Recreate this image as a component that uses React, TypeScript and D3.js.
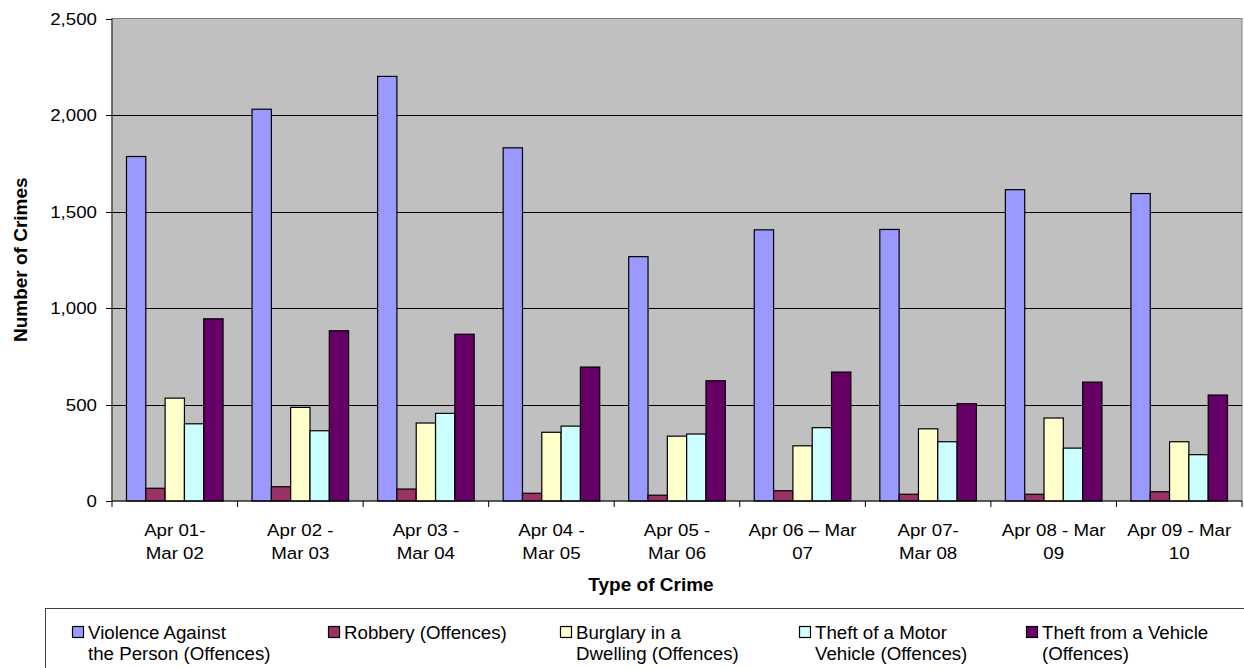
import React from "react";
import * as d3 from "d3";

// Reporting periods (two-line axis labels)
const periodLine1 = [
  "Apr 01-",
  "Apr 02 -",
  "Apr 03 -",
  "Apr 04 -",
  "Apr 05 -",
  "Apr 06 \u2013 Mar",
  "Apr 07-",
  "Apr 08 - Mar",
  "Apr 09 - Mar",
];
const periodLine2 = ["Mar 02", "Mar 03", "Mar 04", "Mar 05", "Mar 06", "07", "Mar 08", "09", "10"];

// Offence series
const seriesNames = [
  "Violence Against the Person (Offences)",
  "Robbery (Offences)",
  "Burglary in a Dwelling (Offences)",
  "Theft of a Motor Vehicle (Offences)",
  "Theft from a Vehicle (Offences)",
];
const violence = [1785, 2030, 2200, 1830, 1266, 1405, 1407, 1613, 1593];
const robbery = [66, 74, 62, 40, 30, 53, 35, 35, 48];
const burglary = [533, 485, 404, 356, 336, 286, 374, 430, 307];
const theftOfVehicle = [400, 364, 454, 388, 347, 380, 307, 274, 240];
const theftFromVehicle = [944, 882, 864, 694, 623, 668, 504, 616, 549];

const yTicks = [0, 500, 1000, 1500, 2000, 2500];

const seriesColors = ["#9999FF", "#993366", "#FFFFCC", "#CCFFFF", "#660066"];

// legend labels split over two lines
const legendLines = [
  ["Violence Against", "the Person (Offences)"],
  ["Robbery (Offences)", ""],
  ["Burglary in a", "Dwelling (Offences)"],
  ["Theft of a Motor", "Vehicle (Offences)"],
  ["Theft from a Vehicle", "(Offences)"],
];
const legendX = [72, 328, 560, 799, 1026];

const W = 1244;
const H = 668;
const plot = { left: 112, right: 1242, top: 18.5, bottom: 501 };
const FONT = "Arial, 'Liberation Sans', sans-serif";

export default function App() {
  const values = [violence, robbery, burglary, theftOfVehicle, theftFromVehicle];
  const periods = periodLine1.map((_, i) => i);

  const x = d3
    .scaleBand<number>()
    .domain(periods)
    .range([plot.left, plot.right])
    .paddingInner(0)
    .paddingOuter(0);
  const xs = d3
    .scaleBand<number>()
    .domain(d3.range(seriesNames.length))
    .range([0, x.bandwidth()])
    .paddingInner(0)
    .paddingOuter(0.75);
  const y = d3.scaleLinear().domain([0, 2500]).range([plot.bottom, plot.top]);
  const fmt = d3.format(",");

  const tickX = d3.range(periods.length + 1).map((i) => plot.left + i * x.step());

  return (
    <svg
      width={W}
      height={H}
      style={{ position: "absolute", left: 0, top: 0, display: "block" }}
      fontFamily={FONT}
    >
      <rect x={0} y={0} width={W} height={H} fill="#ffffff" />

      {/* plot area */}
      <rect
        x={plot.left}
        y={plot.top}
        width={plot.right - plot.left}
        height={plot.bottom - plot.top}
        fill="#C0C0C0"
        stroke="#808080"
        strokeWidth={1}
      />

      {/* gridlines */}
      {yTicks
        .filter((t) => t > 0 && t < 2500)
        .map((t) => (
          <line
            key={`g${t}`}
            x1={plot.left}
            x2={plot.right}
            y1={Math.round(y(t)) + 0.5}
            y2={Math.round(y(t)) + 0.5}
            stroke="#000000"
            strokeWidth={1}
          />
        ))}

      {/* bars */}
      {values.map((vals, s) =>
        vals.map((v, i) => (
          <rect
            key={`b${s}-${i}`}
            x={(x(i) as number) + (xs(s) as number)}
            y={y(v)}
            width={xs.bandwidth()}
            height={plot.bottom - y(v)}
            fill={seriesColors[s]}
            stroke="#000000"
            strokeWidth={1.2}
          />
        ))
      )}

      {/* y axis */}
      <line x1={plot.left} x2={plot.left} y1={plot.top} y2={plot.bottom} stroke="#404040" strokeWidth={1.2} />
      {yTicks.map((t) => (
        <g key={`yt${t}`}>
          <line
            x1={plot.left - 6}
            x2={plot.left}
            y1={Math.round(y(t)) + 0.5}
            y2={Math.round(y(t)) + 0.5}
            stroke="#000"
          />
          <text
            transform={`translate(97,${y(t) + 6}) scale(1.1,1)`}
            textAnchor="end"
            fontSize={17}
            fill="#000"
          >
            {fmt(t)}
          </text>
        </g>
      ))}

      {/* x axis */}
      <line x1={plot.left} x2={plot.right} y1={plot.bottom} y2={plot.bottom} stroke="#000" strokeWidth={1.2} />
      {tickX.map((tx, i) => (
        <line key={`xt${i}`} x1={tx} x2={tx} y1={plot.bottom} y2={plot.bottom + 6} stroke="#000" />
      ))}
      {periods.map((i) => {
        const cx = (x(i) as number) + x.bandwidth() / 2;
        return (
          <g key={`xl${i}`}>
            <text transform={`translate(${cx},535.5) scale(1.1,1)`} textAnchor="middle" fontSize={17}>
              {periodLine1[i]}
            </text>
            <text transform={`translate(${cx},559.3) scale(1.1,1)`} textAnchor="middle" fontSize={17}>
              {periodLine2[i]}
            </text>
          </g>
        );
      })}

      {/* axis titles */}
      <text x={651} y={590.5} textAnchor="middle" fontSize={19} fontWeight="bold">
        Type of Crime
      </text>
      <text
        transform={`translate(26.5,${(plot.top + plot.bottom) / 2}) rotate(-90)`}
        textAnchor="middle"
        fontSize={19}
        fontWeight="bold"
      >
        Number of Crimes
      </text>

      {/* legend */}
      <rect x={45.5} y={608.5} width={W} height={H} fill="#ffffff" stroke="#404040" strokeWidth={1} />
      {seriesNames.map((name, s) => (
        <g key={`lg${s}`}>
          <rect
            x={legendX[s] + 0.5}
            y={626.5}
            width={11}
            height={11}
            fill={seriesColors[s]}
            stroke="#000"
            strokeWidth={1.2}
          />
          <text x={legendX[s] + 16} y={638.5} fontSize={18.7}>
            {legendLines[s][0]}
          </text>
          {legendLines[s][1] && (
            <text x={legendX[s] + 16} y={659.5} fontSize={18.7}>
              {legendLines[s][1]}
            </text>
          )}
        </g>
      ))}
    </svg>
  );
}
